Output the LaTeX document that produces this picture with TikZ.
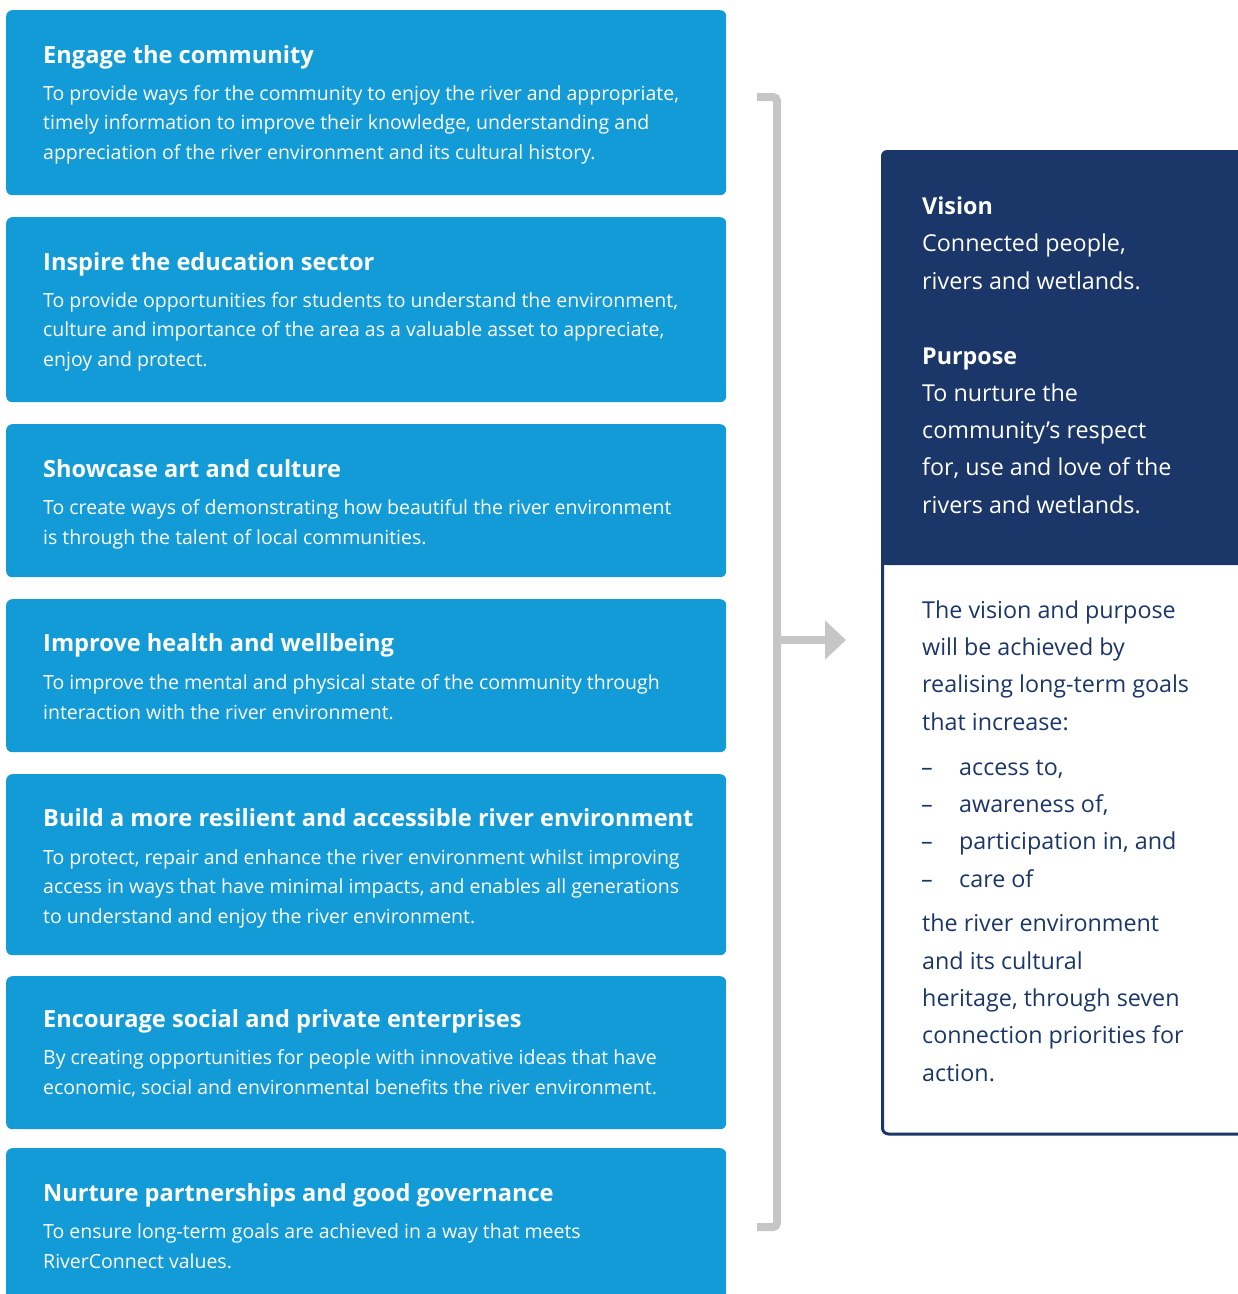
\documentclass[tikz,border=0pt]{standalone}
\usepackage{fontspec}
\setmainfont{Open Sans}
\usetikzlibrary{arrows.meta}
\definecolor{boxblue}{HTML}{139BD7}
\definecolor{navy}{HTML}{1B3668}
\definecolor{brk}{HTML}{C6C6C6}
\tikzset{
  bluebox/.style={fill=boxblue, rounded corners=6pt, anchor=north west, minimum width=720pt, inner sep=0pt},
  ttl/.style={anchor=base west, inner sep=0pt, text=white, font=\fontsize{23.6}{28}\selectfont\bfseries},
  body/.style={anchor=base west, inner sep=0pt, text=white, align=left, font=\fontsize{19.5}{29.5}\selectfont},
  rttl/.style={anchor=base west, inner sep=0pt, text=white, font=\fontsize{23.3}{37.3}\selectfont\bfseries},
  rbody/.style={anchor=base west, inner sep=0pt, align=left, font=\fontsize{23.3}{37.3}\selectfont},
  brkline/.style={draw=brk, line width=8pt},
}
\begin{document}
\begin{tikzpicture}[x=1pt,y=-1pt]
\useasboundingbox (0,0) rectangle (1238,1294);
% left boxes
\node[bluebox, minimum height=185pt] (b1) at (6,10) {};
\node[bluebox, minimum height=185pt] (b2) at (6,217) {};
\node[bluebox, minimum height=153pt] (b3) at (6,424) {};
\node[bluebox, minimum height=153pt] (b4) at (6,599) {};
\node[bluebox, minimum height=181pt] (b5) at (6,774) {};
\node[bluebox, minimum height=153pt] (b6) at (6,976) {};
\node[bluebox, minimum height=160pt] (b7) at (6,1148) {};

% (body nodes are placed by the baseline of their last line)
\node[ttl] (t1) at (43,63) {Engage the community};
\node[body] (d1) at (43,159) {To provide ways for the community to enjoy the river and appropriate,\\timely information to improve their knowledge, understanding and\\appreciation of the river environment and its cultural history.};
\node[ttl] (t2) at (43,270) {Inspire the education sector};
\node[body] (d2) at (43,366) {To provide opportunities for students to understand the environment,\\culture and importance of the area as a valuable asset to appreciate,\\enjoy and protect.};
\node[ttl] (t3) at (43,477) {Showcase art and culture};
\node[body] (d3) at (43,544) {To create ways of demonstrating how beautiful the river environment\\is through the talent of local communities.};
\node[ttl] (t4) at (43,651) {Improve health and wellbeing};
\node[body] (d4) at (43,719) {To improve the mental and physical state of the community through\\interaction with the river environment.};
\node[ttl] (t5) at (43,826) {Build a more resilient and accessible river environment};
\node[body] (d5) at (43,923) {To protect, repair and enhance the river environment whilst improving\\access in ways that have minimal impacts, and enables all generations\\to understand and enjoy the river environment.};
\node[ttl] (t6) at (43,1027) {Encourage social and private enterprises};
\node[body] (d6) at (43,1094) {By creating opportunities for people with innovative ideas that have\\economic, social and environmental benefits the river environment.};
\node[ttl] (t7) at (43,1201) {Nurture partnerships and good governance};
\node[body] (d7) at (43,1268) {To ensure long-term goals are achieved in a way that meets\\RiverConnect values.};

% right panel
\node[anchor=north west, minimum width=370pt, minimum height=985pt, inner sep=0pt] (panel) at (881,150) {};
\fill[navy, rounded corners=6pt] (panel.north west) rectangle (1250,565);
\fill[navy] (881,300) rectangle (1250,565);
\draw[navy, line width=3pt, rounded corners=6pt] (882.5,565) -- (882.5,1134) -- (1250,1134);

\node[rttl] (vt) at (922,214) {Vision};
\node[rbody, text=white] (vb) at (922,289) {Connected people,\\rivers and wetlands.};
\node[rttl] (pt) at (922,364) {Purpose};
\node[rbody, text=white] (pb) at (922,513) {To nurture the\\community’s respect\\for, use and love of the\\rivers and wetlands.};
\node[rbody, text=navy] (g1) at (922,730) {The vision and purpose\\will be achieved by\\realising long-term goals\\that increase:};
\node[rbody, text=navy] (dash) at (921,887) {–\\–\\–\\–};
\node[rbody, text=navy] (items) at (959,887) {access to,\\awareness of,\\participation in, and\\care of};
\node[rbody, text=navy] (g2) at (922,1081) {the river environment\\and its cultural\\heritage, through seven\\connection priorities for\\action.};

% bracket and arrow
\coordinate (brtop) at (757,97);
\coordinate (brbot) at (757,1227);
\coordinate (brmid) at (777,640);
\draw[brkline, rounded corners=4pt] (brtop) -- (777,97) -- (777,1227) -- (brbot);
\draw[brkline, -{Triangle[length=21pt,width=38pt]}] (brmid) -- ([xshift=-35pt]panel.west |- brmid);
\end{tikzpicture}
\end{document}
